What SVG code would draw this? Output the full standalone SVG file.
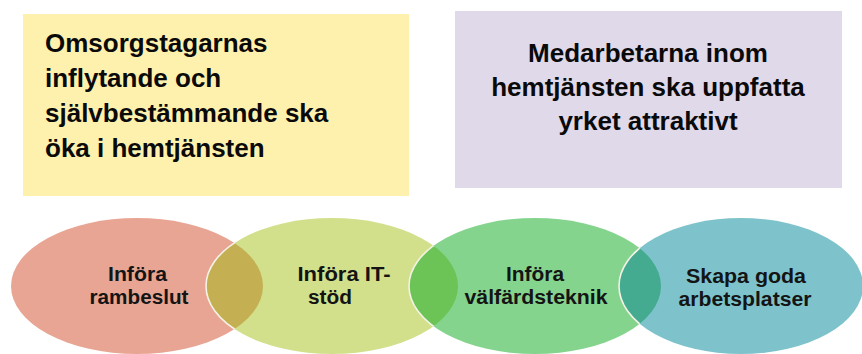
<svg xmlns="http://www.w3.org/2000/svg" width="862" height="354" viewBox="0 0 862 354">
<style>
.box{font-family:"Liberation Sans",Arial,sans-serif;font-weight:bold;font-size:26px;fill:#0a0a0a}
.el{font-family:"Liberation Sans",Arial,sans-serif;font-weight:bold;font-size:20px;fill:#141414;text-anchor:middle}
.edge{fill:none;stroke:#f4f2e6;stroke-width:1.6}
</style>
<defs>
<clipPath id="c1"><ellipse cx="137" cy="286" rx="126" ry="68"/></clipPath>
<clipPath id="c2"><ellipse cx="332" cy="286" rx="126" ry="68"/></clipPath>
<clipPath id="c3"><ellipse cx="535" cy="286" rx="126" ry="68"/></clipPath>
</defs>
<rect width="862" height="354" fill="#ffffff"/>
<g id="goal1">
<rect x="23" y="14" width="386" height="182" fill="#FEF1AE"/>
<text class="box" x="45" y="52">Omsorgstagarnas</text>
<text class="box" x="45" y="87">inflytande och</text>
<text class="box" x="45" y="122">självbestämmande ska</text>
<text class="box" x="45" y="157">öka i hemtjänsten</text>
</g>
<g id="goal2">
<rect x="455" y="11" width="387" height="177" fill="#E0D9EA"/>
<text class="box" x="648" y="62" text-anchor="middle">Medarbetarna inom</text>
<text class="box" x="648" y="96" text-anchor="middle">hemtjänsten ska uppfatta</text>
<text class="box" x="648" y="130" text-anchor="middle">yrket attraktivt</text>
</g>
<g id="n1">
<ellipse cx="137" cy="286" rx="126" ry="68" fill="#E8A593"/>
</g>
<g id="n2">
<ellipse cx="332" cy="286" rx="126" ry="68" fill="#D2E08C"/>
<ellipse cx="332" cy="286" rx="126" ry="68" fill="#C4B053" clip-path="url(#c1)"/>
<ellipse cx="332" cy="286" rx="126" ry="68" class="edge" clip-path="url(#c1)"/>
</g>
<g id="n3">
<ellipse cx="535" cy="286" rx="126" ry="68" fill="#85D48E"/>
<ellipse cx="535" cy="286" rx="126" ry="68" fill="#6CC457" clip-path="url(#c2)"/>
<ellipse cx="535" cy="286" rx="126" ry="68" class="edge" clip-path="url(#c2)"/>
</g>
<g id="n4">
<ellipse cx="741" cy="286" rx="122" ry="68" fill="#7EC3CB"/>
<ellipse cx="741" cy="286" rx="122" ry="68" fill="#45AB90" clip-path="url(#c3)"/>
<ellipse cx="741" cy="286" rx="122" ry="68" class="edge" clip-path="url(#c3)"/>
</g>
<g id="labels">
<text class="el" x="137.5" y="281" textLength="59" lengthAdjust="spacingAndGlyphs">Införa</text>
<text class="el" x="139" y="304" textLength="99" lengthAdjust="spacingAndGlyphs">rambeslut</text>
<text class="el" x="344" y="281" textLength="93" lengthAdjust="spacingAndGlyphs">Införa IT-</text>
<text class="el" x="330" y="304" textLength="44" lengthAdjust="spacingAndGlyphs">stöd</text>
<text class="el" x="535" y="281" textLength="58" lengthAdjust="spacingAndGlyphs">Införa</text>
<text class="el" x="536" y="304" textLength="143" lengthAdjust="spacingAndGlyphs">välfärdsteknik</text>
<text class="el" x="746" y="283" textLength="120" lengthAdjust="spacingAndGlyphs">Skapa goda</text>
<text class="el" x="745" y="306" textLength="133" lengthAdjust="spacingAndGlyphs">arbetsplatser</text>
</g>
<g id="connectors"></g>
</svg>
